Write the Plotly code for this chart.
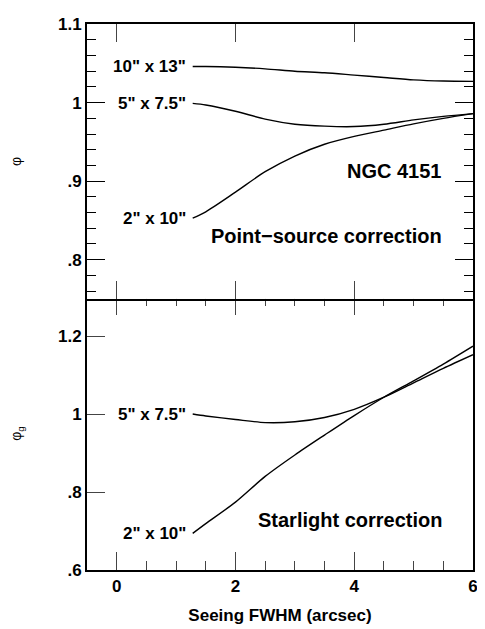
import plotly.graph_objects as go

# ── Data ────────────────────────────────────────────────────────────────────
seeing = [1.28, 1.5, 2.0, 2.5, 3.0, 3.5, 4.0, 4.5, 5.0, 5.5, 6.0]

# point-source correction (phi), NGC 4151
phi_10x13 = [1.046, 1.046, 1.045, 1.043, 1.040, 1.038, 1.035, 1.032, 1.029, 1.0275, 1.027]
phi_5x75 = [0.999, 0.997, 0.989, 0.979, 0.9725, 0.970, 0.9695, 0.9725, 0.978, 0.9825, 0.986]
phi_2x10 = [0.853, 0.861, 0.886, 0.912, 0.932, 0.947, 0.957, 0.965, 0.973, 0.980, 0.986]

# starlight correction (phi_g)
phig_5x75 = [1.0, 0.995, 0.986, 0.978, 0.980, 0.991, 1.012, 1.043, 1.080, 1.117, 1.152]
phig_2x10 = [0.694, 0.719, 0.774, 0.840, 0.895, 0.946, 0.996, 1.043, 1.085, 1.128, 1.174]

# tick labels drop the leading zero, as in the original
tick_alias = {"0.6": ".6", "0.7": ".7", "0.8": ".8", "0.9": ".9"}

FAMILY = "Liberation Sans, Arial, sans-serif"
BOLD = dict(family=FAMILY, size=17, color="black", weight="bold")
PANEL_FONT = dict(family=FAMILY, size=20, color="black", weight="bold")
SYMBOL = dict(family=FAMILY, size=14, color="black")
LINE = dict(color="black", width=1.4, shape="spline", smoothing=0.8)

fig = go.Figure()
for y in (phi_10x13, phi_5x75, phi_2x10):
    fig.add_trace(go.Scatter(x=seeing, y=y, mode="lines", line=LINE,
                             xaxis="x2", yaxis="y2", showlegend=False))
for y in (phig_5x75, phig_2x10):
    fig.add_trace(go.Scatter(x=seeing, y=y, mode="lines", line=LINE,
                             xaxis="x", yaxis="y", showlegend=False))

# the page body adds an 8px offset, so the figure is 8px smaller than the window
W, H = 477, 621
top_lo = 0.5 - 2 / 561   # top panel 2px lower -> shared middle line is single

# axis settings kept to the combination that did draw ticks
fig.update_layout(
    width=W, height=H,
    paper_bgcolor="white", plot_bgcolor="white",
    margin=dict(l=72, r=10, t=7, b=53),
    font=dict(family=FAMILY, color="black"),
    xaxis=dict(
        domain=[0, 1], anchor="y", range=[-0.5, 6], showline=True, linecolor="black", linewidth=2,
        mirror="ticks", ticks="inside", ticklen=18, showgrid=False, zeroline=False, tickfont=BOLD,
        tickmode="linear", tick0=0, dtick=2,
        minor=dict(dtick=0.5, ticks="inside", ticklen=9),
        title=dict(text="Seeing FWHM (arcsec)", font=BOLD, standoff=14),
    ),
    xaxis2=dict(
        domain=[0, 1], anchor="y2", matches="x", range=[-0.5, 6], showline=True, linecolor="black",
        linewidth=2, mirror="allticks", ticks="inside", ticklen=18, showgrid=False, zeroline=False,
        tickmode="linear", tick0=0, dtick=2, showticklabels=False,
    ),
    yaxis=dict(
        domain=[0, 0.5], anchor="x", range=[0.6, 1.3], showline=True, linecolor="black", linewidth=2,
        mirror=True, ticks="inside", ticklen=18, showgrid=False, zeroline=False, tickfont=BOLD,
        tickmode="linear", tick0=0.6, dtick=0.2, labelalias=tick_alias,
        title=dict(text="φ<sub>g</sub>", font=SYMBOL, standoff=33),
    ),
    yaxis2=dict(
        domain=[top_lo, 1], anchor="x2", range=[0.75, 1.1001], showline=True, linecolor="black",
        linewidth=2, mirror="allticks", ticks="inside", ticklen=18, tickcolor="black", tickwidth=1.3,
        showgrid=False, zeroline=False, tickfont=BOLD, ticklabeloverflow="allow",
        tickmode="linear", tick0=0.8, dtick=0.1, labelalias=tick_alias,
        minor=dict(dtick=0.02, ticks="inside", ticklen=9),
        title=dict(text="φ", font=SYMBOL, standoff=33),
    ),
)


# curve labels, right-aligned just left of each curve's start
def label(text, y, xref, yref):
    fig.add_annotation(x=seeing[0], y=y, xref=xref, yref=yref, text=text,
                       showarrow=False, xanchor="right", xshift=-5, font=BOLD)


label('10" x 13"', phi_10x13[0], "x2", "y2")
label('5" x 7.5"', phi_5x75[0], "x2", "y2")
label('2" x 10"', phi_2x10[0], "x2", "y2")
label('5" x 7.5"', phig_5x75[0], "x", "y")
label('2" x 10"', phig_2x10[0], "x", "y")

fig.add_annotation(x=0.925, y=0.731, xref="paper", yref="paper", text="NGC 4151",
                   showarrow=False, xanchor="right", yanchor="middle", font=PANEL_FONT)
fig.add_annotation(x=0.925, y=0.611, xref="paper", yref="paper", text="Point−source correction",
                   showarrow=False, xanchor="right", yanchor="middle", font=PANEL_FONT)
fig.add_annotation(x=0.925, y=0.091, xref="paper", yref="paper", text="Starlight correction",
                   showarrow=False, xanchor="right", yanchor="middle", font=PANEL_FONT)

fig.write_html("out.html")
